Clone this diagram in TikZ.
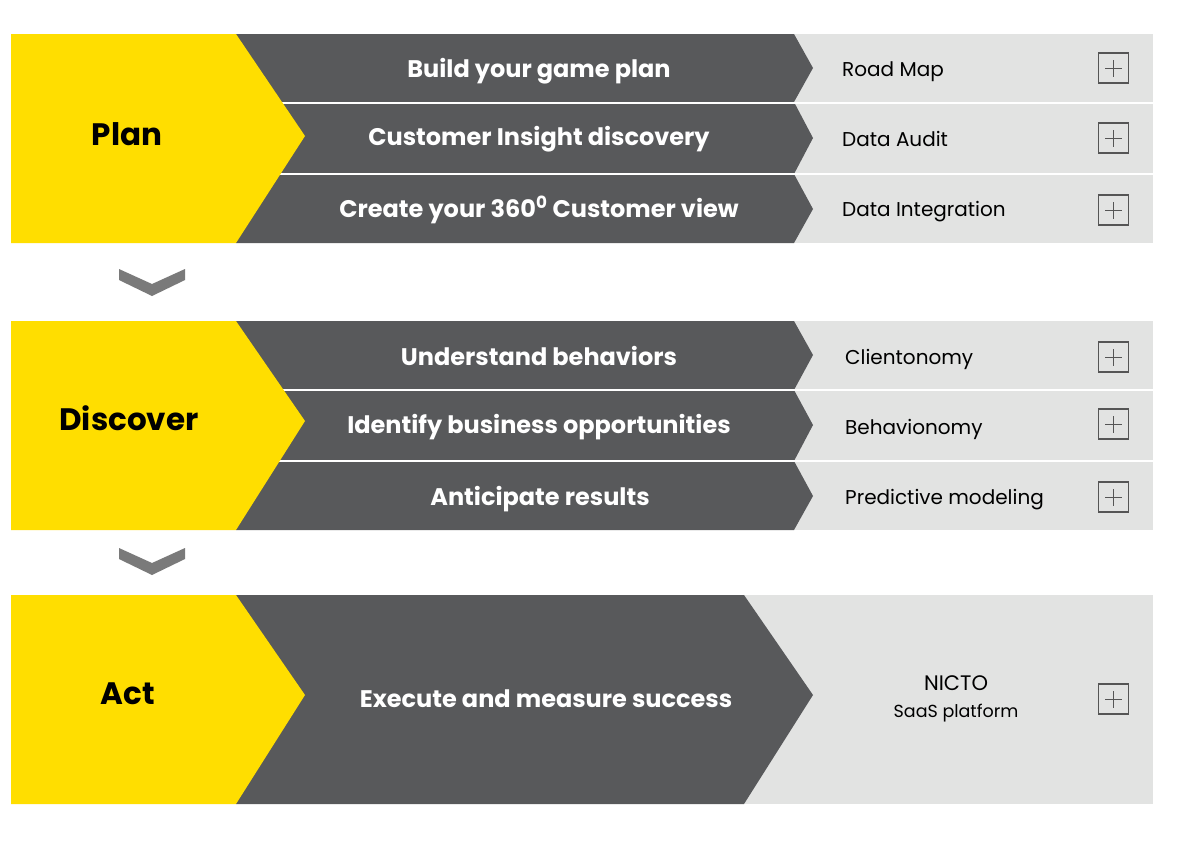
\documentclass[tikz,border=0pt]{standalone}
\usepackage{fontspec}
\setmainfont{Poppins}
\definecolor{ey}{HTML}{FFDE00}
\definecolor{dk}{HTML}{58595B}
\definecolor{lt}{HTML}{E2E3E2}
\definecolor{chev}{HTML}{7A7A7A}
\definecolor{pb}{HTML}{555555}
\tikzset{
  darktxt/.style={text=white,font=\bfseries\fontsize{24}{28}\selectfont,inner sep=0pt,anchor=base,yshift=-8.4pt},
  lighttxt/.style={text=black,font=\fontsize{20}{24}\selectfont,anchor=base west,inner sep=0pt,yshift=-7pt},
  bigtxt/.style={text=black,font=\bfseries\fontsize{31}{36}\selectfont,inner sep=0pt,anchor=base,yshift=-10.8pt},
  plusbox/.style={draw=pb,line width=1.2pt,minimum width=30pt,minimum height=30pt,inner sep=0pt,
    path picture={\draw[pb,line width=1pt] ([xshift=-8.5pt]path picture bounding box.center)--([xshift=8.5pt]path picture bounding box.center)
      ([yshift=-8.5pt]path picture bounding box.center)--([yshift=8.5pt]path picture bounding box.center);}},
  sepline/.style={white,line width=2pt},
}
\begin{document}
\begin{tikzpicture}[x=1pt,y=-1pt]
\useasboundingbox[fill=white] (0,0) rectangle (1185,841);
% ---------- PLAN ----------
\fill[lt] (236,34) rectangle (1153,243);
\fill[dk] (236,34) -- (794,34) -- (813,68) -- (794,102) -- (236,102) -- cycle;
\fill[dk] (236,102) -- (794,102) -- (813,138) -- (794,174) -- (236,174) -- cycle;
\fill[dk] (236,174) -- (794,174) -- (813,209) -- (794,243) -- (236,243) -- cycle;
\draw[sepline] (236,102.5) -- (1153,102.5);
\draw[sepline] (236,174) -- (1153,174);
\fill[ey] (11,34) -- (236,34) -- (305,136) -- (236,243) -- (11,243) -- cycle;
\node[bigtxt] (plan) at (127,135) {Plan};
\node[darktxt] (p1) at (539,69) {Build your game plan};
\node[darktxt] (p2) at (539,137) {Customer Insight discovery};
\node[darktxt] (p3) at (539,209) {Create your 360\textsuperscript{0} Customer view};
\node[lighttxt] (p1r) at (842,69) {Road Map};
\node[lighttxt] (p2r) at (842,139) {Data Audit};
\node[lighttxt] (p3r) at (842,209) {Data Integration};
\node[plusbox] (b1) at (1113.5,68) {};
\node[plusbox] (b2) at (1113.5,138) {};
\node[plusbox] (b3) at (1113.5,210) {};
% chevron 1
\fill[chev] (119,269) -- (152,284) -- (185,269) -- (185,280) -- (152,296) -- (119,280) -- cycle;
% ---------- DISCOVER ----------
\fill[lt] (236,321) rectangle (1153,530);
\fill[dk] (236,321) -- (794,321) -- (813,355) -- (794,390) -- (236,390) -- cycle;
\fill[dk] (236,390) -- (794,390) -- (813,425) -- (794,461) -- (236,461) -- cycle;
\fill[dk] (236,461) -- (794,461) -- (813,496) -- (794,530) -- (236,530) -- cycle;
\draw[sepline] (236,390) -- (1153,390);
\draw[sepline] (236,461) -- (1153,461);
\fill[ey] (11,321) -- (236,321) -- (305,421) -- (236,530) -- (11,530) -- cycle;
\node[bigtxt] (disc) at (129,420) {Discover};
\node[darktxt] (d1) at (539,357) {Understand behaviors};
\node[darktxt] (d2) at (539,425) {Identify business opportunities};
\node[darktxt] (d3) at (540,497) {Anticipate results};
\node[lighttxt] (d1r) at (845,357) {Clientonomy};
\node[lighttxt] (d2r) at (845,427) {Behavionomy};
\node[lighttxt] (d3r) at (845,497) {Predictive modeling};
\node[plusbox] (b4) at (1113.5,357) {};
\node[plusbox] (b5) at (1113.5,424) {};
\node[plusbox] (b6) at (1113.5,497) {};
% chevron 2
\fill[chev] (119,548) -- (152,563) -- (185,548) -- (185,559) -- (152,575) -- (119,559) -- cycle;
% ---------- ACT ----------
\fill[lt] (236,595) rectangle (1153,804);
\fill[dk] (236,595) -- (744,595) -- (813,695) -- (744,804) -- (236,804) -- cycle;
\fill[ey] (11,595) -- (236,595) -- (305,695) -- (236,804) -- (11,804) -- cycle;
\node[bigtxt] (act) at (128,694) {Act};
\node[darktxt] (a1) at (546,699) {Execute and measure success};
\node[text=black,font=\fontsize{21}{24}\selectfont,inner sep=0pt,anchor=base,yshift=-7.4pt] (a1n) at (956,683) {NICTO};
\node[text=black,font=\fontsize{17.5}{20}\selectfont,inner sep=0pt,anchor=base,yshift=-6.1pt] (a1s) at (956,711) {SaaS platform};
\node[plusbox] (b7) at (1113.5,699) {};
\end{tikzpicture}
\end{document}
